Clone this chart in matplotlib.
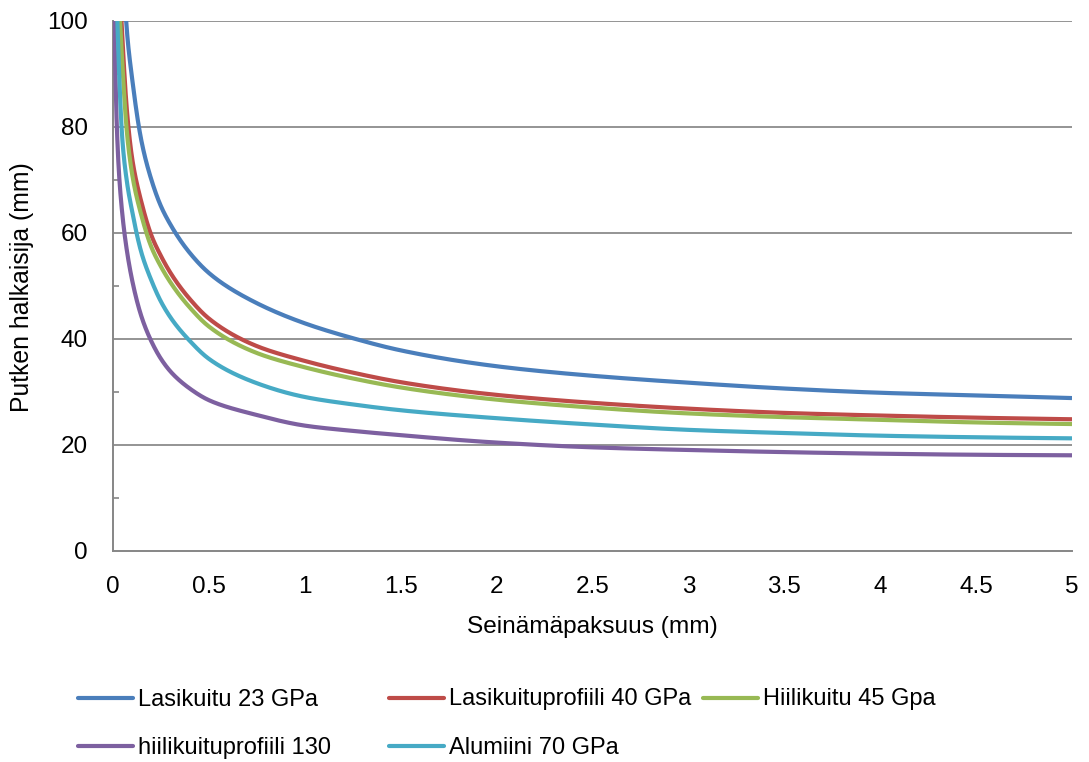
import numpy as np
import matplotlib
matplotlib.use("Agg")
import matplotlib.pyplot as plt
from matplotlib.lines import Line2D
from matplotlib.ticker import FixedLocator

plt.rcParams['font.family'] = ['Liberation Sans', 'DejaVu Sans']

# Wall thickness (mm)
thickness = [0.005, 0.01, 0.02, 0.03, 0.05, 0.075, 0.1, 0.15, 0.2, 0.25, 0.3, 0.4,
             0.5, 0.75, 1, 1.25, 1.5, 2, 2.5, 3, 3.5, 4, 4.5, 5]

# Required tube diameter (mm) for each material
lasikuitu_23 = [240, 190, 155, 135, 112, 97, 89, 77, 70, 65, 61.5, 56.2,
                52.4, 46.7, 42.9, 40.1, 37.8, 34.8, 33.0, 31.7, 30.6, 29.8, 29.3, 28.8]
lasikuituprofiili_40 = [190, 150, 125, 112, 96, 82, 74, 65.5, 59.5, 55.6, 52.4, 47.5,
                        43.8, 38.6, 35.8, 33.6, 31.8, 29.4, 27.9, 26.8, 26.0, 25.5, 25.1, 24.8]
hiilikuitu_45 = [180, 142, 118, 106, 91, 78, 71, 63, 57.3, 53.6, 50.6, 45.9,
                 42.3, 37.3, 34.6, 32.5, 30.8, 28.5, 27.0, 25.9, 25.2, 24.7, 24.2, 23.9]
hiilikuituprofiili_130 = [102, 94, 80, 72, 63, 56, 51, 44, 39.5, 36.2, 33.8, 30.6,
                          28.4, 25.6, 23.6, 22.6, 21.8, 20.4, 19.5, 19.0, 18.6, 18.3, 18.1, 18.0]
alumiini_70 = [150, 125, 104, 92, 77, 69, 64, 56.0, 51.0, 47.0, 44.0, 39.6,
               36.2, 31.6, 29.0, 27.6, 26.5, 25.0, 23.8, 22.8, 22.2, 21.7, 21.4, 21.2]

series_labels = ["Lasikuitu 23 GPa", "Lasikuituprofiili 40 GPa", "Hiilikuitu 45 Gpa",
                 "hiilikuituprofiili 130", "Alumiini 70 GPa"]
series_values = [lasikuitu_23, lasikuituprofiili_40, hiilikuitu_45,
                 hiilikuituprofiili_130, alumiini_70]
colors = ["#4A7EBB", "#BE4B48", "#98B954", "#7D60A0", "#46AAC5"]

x_ticks = [0, 0.5, 1, 1.5, 2, 2.5, 3, 3.5, 4, 4.5, 5]
x_tick_labels = ["0", "0.5", "1", "1.5", "2", "2.5", "3", "3.5", "4", "4.5", "5"]
y_ticks = [0, 20, 40, 60, 80, 100]


def pchip(xk, yk, xq):
    """Monotone piecewise-cubic Hermite interpolation (Fritsch-Carlson)."""
    xk = np.asarray(xk, float)
    yk = np.asarray(yk, float)
    h = np.diff(xk)
    d = np.diff(yk) / h
    n = len(xk)
    m = np.zeros(n)
    for k in range(1, n - 1):
        if d[k - 1] * d[k] <= 0:
            m[k] = 0.0
        else:
            w1 = 2 * h[k] + h[k - 1]
            w2 = h[k] + 2 * h[k - 1]
            m[k] = (w1 + w2) / (w1 / d[k - 1] + w2 / d[k])

    def end_slope(h0, h1, d0, d1):
        s = ((2 * h0 + h1) * d0 - h0 * d1) / (h0 + h1)
        if np.sign(s) != np.sign(d0):
            return 0.0
        if np.sign(d0) != np.sign(d1) and abs(s) > abs(3 * d0):
            return 3 * d0
        return s

    m[0] = end_slope(h[0], h[1], d[0], d[1])
    m[-1] = end_slope(h[-1], h[-2], d[-1], d[-2])

    idx = np.clip(np.searchsorted(xk, xq) - 1, 0, n - 2)
    t = (xq - xk[idx]) / h[idx]
    h00 = 2 * t**3 - 3 * t**2 + 1
    h10 = t**3 - 2 * t**2 + t
    h01 = -2 * t**3 + 3 * t**2
    h11 = t**3 - t**2
    return (h00 * yk[idx] + h10 * h[idx] * m[idx]
            + h01 * yk[idx + 1] + h11 * h[idx] * m[idx + 1])


W, H = 1089, 762
fig = plt.figure(figsize=(W / 100, H / 100), dpi=100)
ax_left, ax_right, ax_top, ax_bottom = 113, 1072, 20.7, 550.7
ax = fig.add_axes([ax_left / W, 1 - ax_bottom / H,
                   (ax_right - ax_left) / W, (ax_bottom - ax_top) / H])

grid_color = "#868686"

ax.set_xlim(0, 5)
ax.set_ylim(0, 100)

for yv in y_ticks[1:]:
    ax.axhline(yv, color=grid_color, lw=1.25, zorder=1)

# Smooth curves: interpolate against log(thickness) for an even, kink-free shape
log_t = np.log(thickness)
t_dense = np.geomspace(thickness[0], thickness[-1], 1500)
for vals, col in zip(series_values, colors):
    y_dense = pchip(log_t, vals, np.log(t_dense))
    ax.plot(t_dense, y_dense, color=col, lw=3.0, solid_capstyle='butt', zorder=3)

for side in ("top", "right"):
    ax.spines[side].set_visible(False)
for side in ("left", "bottom"):
    ax.spines[side].set_color(grid_color)
    ax.spines[side].set_linewidth(1.4)

ax.set_xticks(x_ticks)
ax.set_xticklabels(x_tick_labels)
ax.set_yticks(y_ticks)
ax.yaxis.set_minor_locator(FixedLocator([10, 30, 50, 70, 90]))
ax.tick_params(axis='both', which='major', length=0, labelsize=17.5, colors='black')
ax.tick_params(axis='y', which='major', pad=18)
ax.tick_params(axis='x', which='major', pad=18)
ax.tick_params(axis='y', which='minor', direction='in', length=4, width=1.2, color=grid_color)

fig.text(22 / W, 1 - 287 / H, "Putken halkaisija (mm)", rotation=90,
         ha='center', va='center', fontsize=17.8)
fig.text(592.5 / W, 1 - 627 / H, "Seinämäpaksuus (mm)",
         ha='center', va='center', fontsize=17.6)

# Legend laid out in two rows below the plot
legend_slots = [
    (78, 133, 138, 697.5),
    (389, 444, 449, 697.5),
    (703, 758, 763, 697.5),
    (78, 133, 138, 746),
    (389, 444, 449, 746),
]
for (hx0, hx1, tx, yy), lab, col in zip(legend_slots, series_labels, colors):
    fig.add_artist(Line2D([hx0 / W, hx1 / W], [1 - yy / H, 1 - yy / H],
                          transform=fig.transFigure, color=col, lw=3.0,
                          solid_capstyle='round'))
    fig.text(tx / W, 1 - (yy + 8) / H, lab, ha='left', va='baseline', fontsize=17)

fig.savefig("out.png", dpi=100)
